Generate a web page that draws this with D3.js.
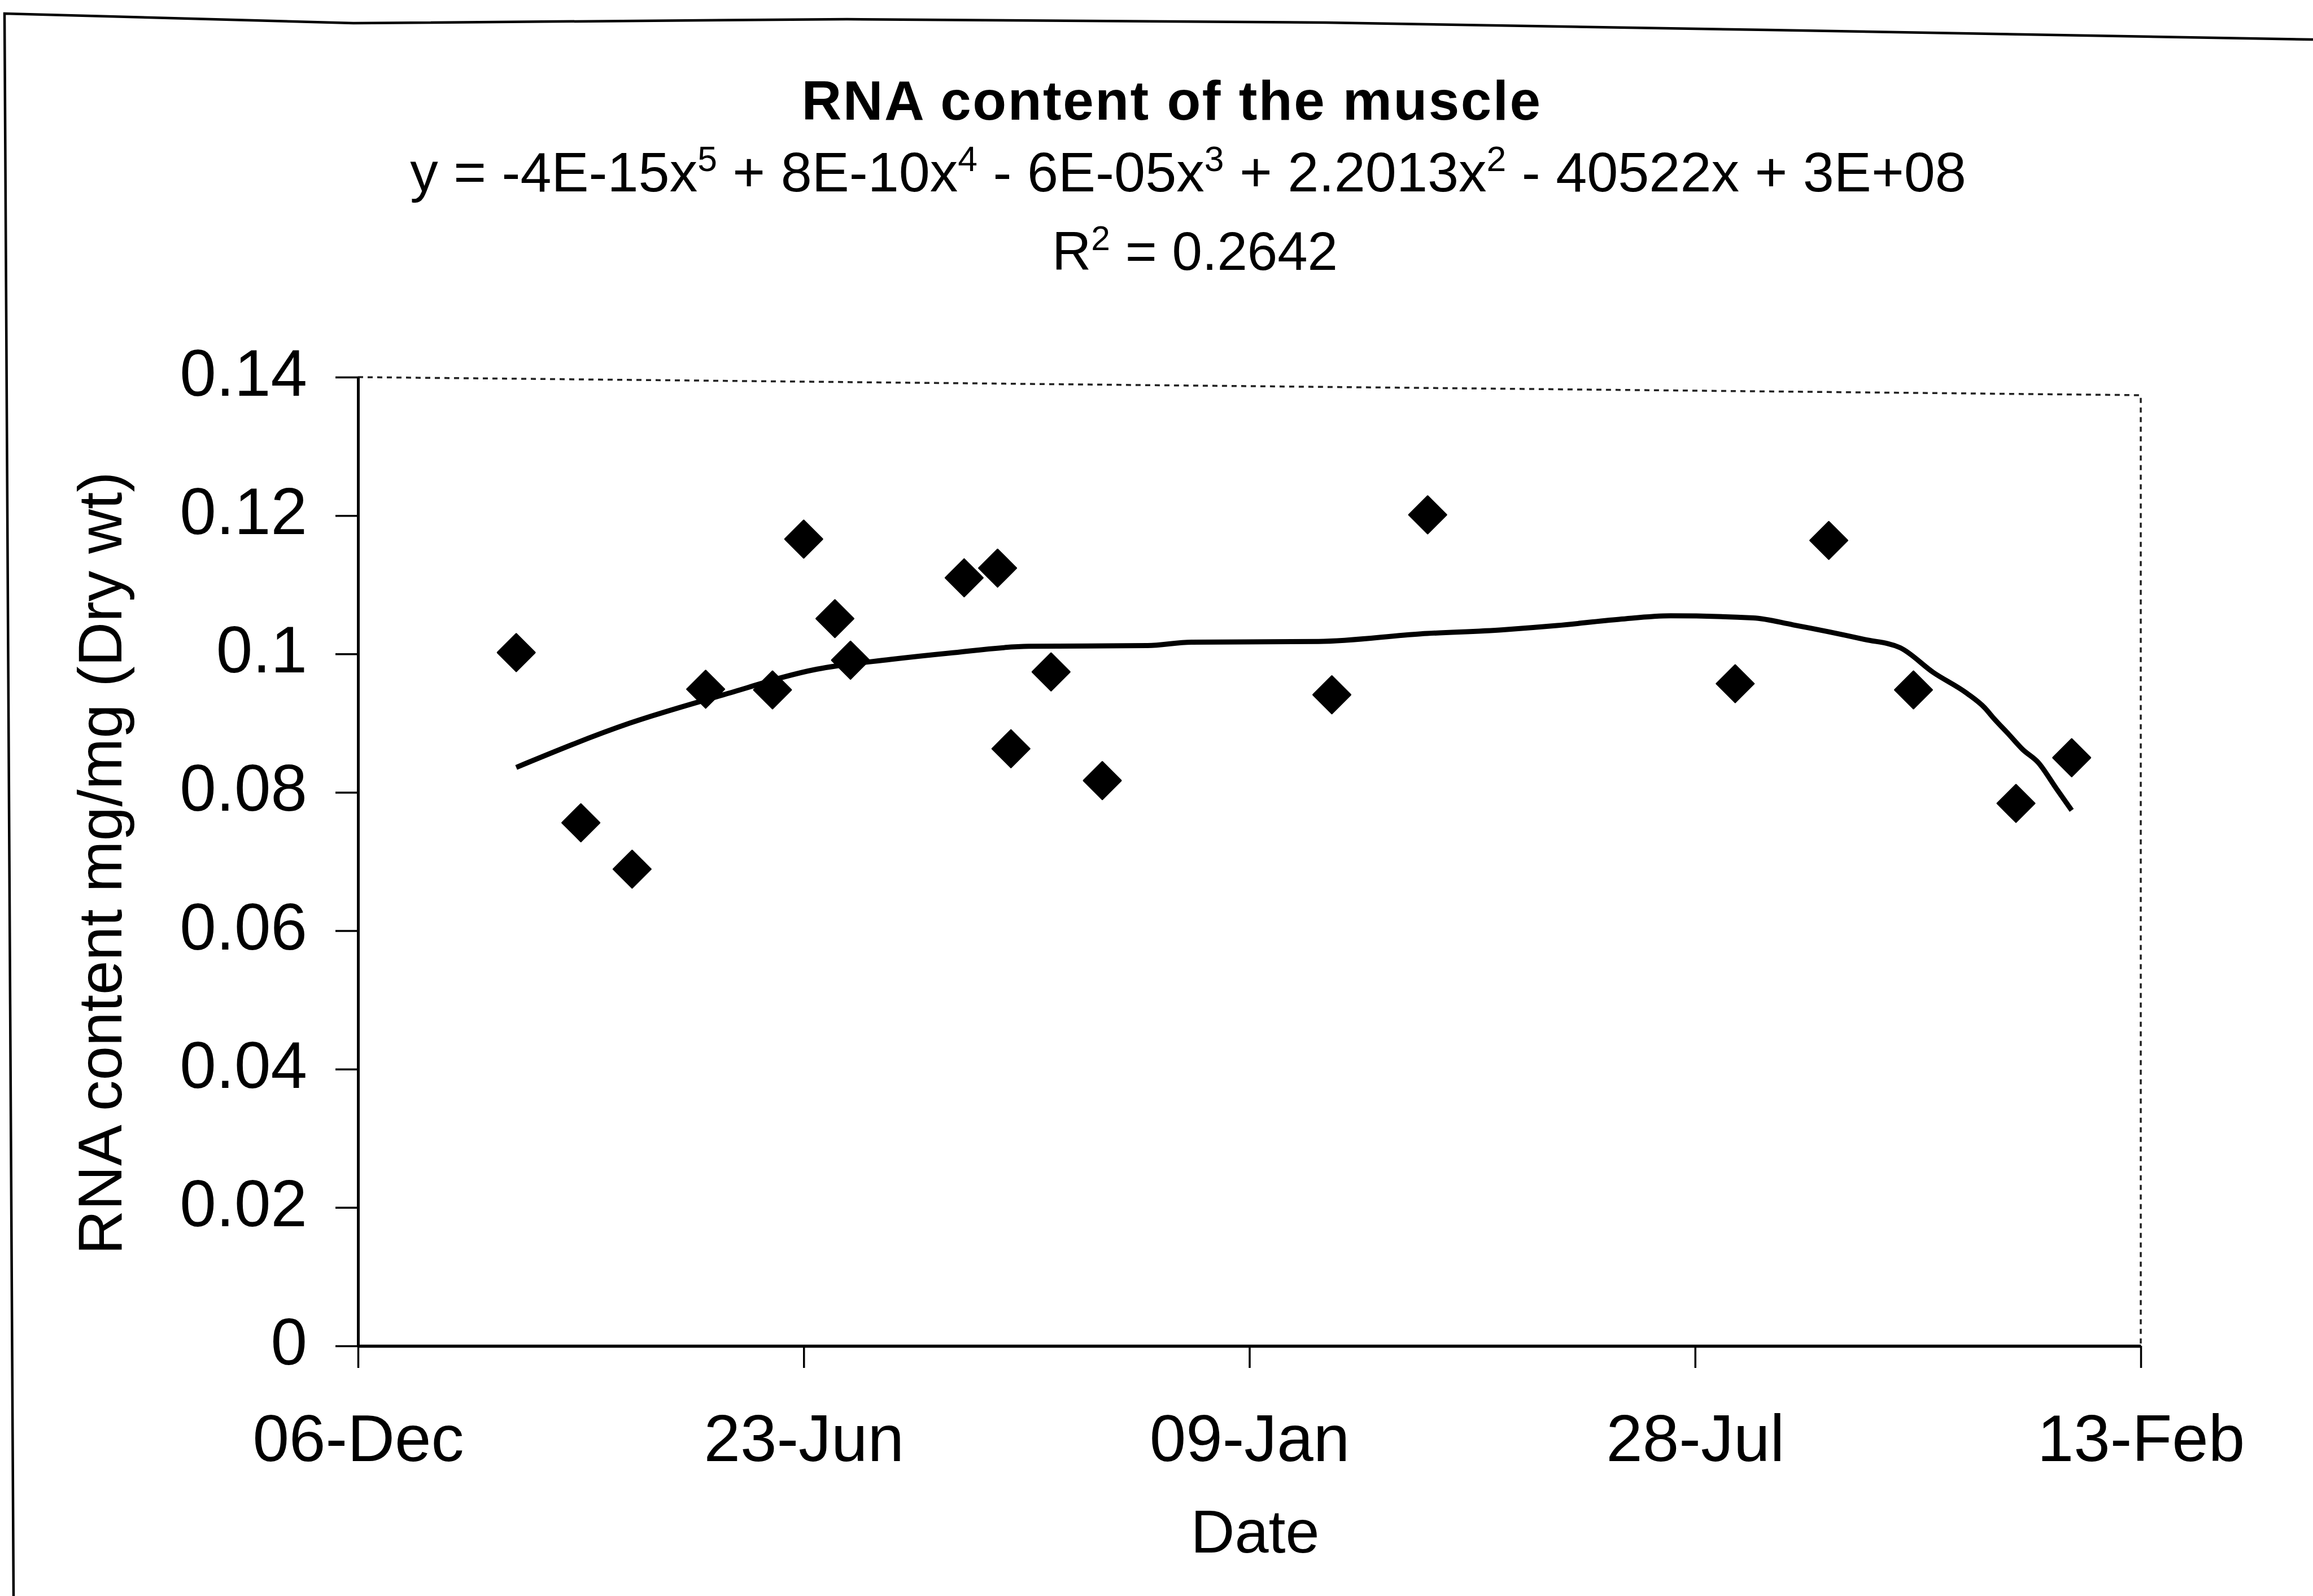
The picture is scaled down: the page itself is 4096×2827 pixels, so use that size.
<!DOCTYPE html>
<html>
<head>
<meta charset="utf-8">
<script src="https://cdn.jsdelivr.net/npm/d3@7"></script>
<style>
  html, body { margin: 0; padding: 0; background: #fff; }
  svg { display: block; }
  text { font-family: "Liberation Sans", Arial, Helvetica, sans-serif; fill: #000; }
</style>
</head>
<body>
<svg id="chart" width="4096" height="2827"></svg>
<script>
// ---- data ---------------------------------------------------------------
// Sampling dates and RNA content (mg/mg dry weight) of the muscle
const sampleDates = [
  "1996-02-15", "1996-03-15", "1996-04-07", "1996-05-10", "1996-06-09",
  "1996-06-23", "1996-07-07", "1996-07-14", "1996-09-03", "1996-09-18",
  "1996-09-24", "1996-10-12", "1996-11-04", "1997-02-15", "1997-03-30",
  "1997-08-15", "1997-09-26", "1997-11-03", "1997-12-19", "1998-01-13"
];
const rnaContent = [
  0.1002, 0.0756, 0.0689, 0.0949, 0.0948,
  0.1166, 0.1051, 0.0991, 0.1110, 0.1124,
  0.0863, 0.0974, 0.0817, 0.0941, 0.1201,
  0.0957, 0.1164, 0.0948, 0.0784, 0.0850
];

// 5th-order polynomial trend line, as plotted
const trendDates = [
  "1996-02-15", "1996-04-06", "1996-05-18", "1996-06-29", "1996-08-01",
  "1996-08-27", "1996-10-02", "1996-11-24", "1996-12-14", "1997-02-09",
  "1997-03-27", "1997-05-03", "1997-05-27", "1997-06-24", "1997-07-17",
  "1997-08-23", "1997-09-10", "1997-10-12", "1997-10-28", "1997-11-12",
  "1997-11-27", "1997-12-05", "1997-12-09", "1997-12-16", "1997-12-22",
  "1997-12-29", "1998-01-06", "1998-01-13"
];
const trendValues = [
  0.0836, 0.0900, 0.0941, 0.0978, 0.0992,
  0.1001, 0.1011, 0.1012, 0.1017, 0.1018,
  0.1029, 0.1035, 0.1041, 0.1050, 0.1055,
  0.1052, 0.1042, 0.1021, 0.1009, 0.0973,
  0.0943, 0.0922, 0.0907, 0.0883, 0.0862,
  0.0843, 0.0806, 0.0774
];

// Axis ticks
const xDomain = ["1995-12-06", "1998-02-13"];
const xTickDates = ["1995-12-06", "1996-06-23", "1997-01-09", "1997-07-28", "1998-02-13"];
const xTickLabels = ["06-Dec", "23-Jun", "09-Jan", "28-Jul", "13-Feb"];
const yTicks = [0, 0.02, 0.04, 0.06, 0.08, 0.1, 0.12, 0.14];
const yTickLabels = ["0", "0.02", "0.04", "0.06", "0.08", "0.1", "0.12", "0.14"];

const titleText = "RNA content of the muscle";
const equationParts = [
  ["y = -4E-15x", "5"], [" + 8E-10x", "4"], [" - 6E-05x", "3"],
  [" + 2.2013x", "2"], [" - 40522x + 3E+08", null]
];
const rSquaredParts = [["R", "2"], [" = 0.2642", null]];
const yAxisTitle = "RNA content mg/mg (Dry wt)";
const xAxisTitle = "Date";

// ---- layout -------------------------------------------------------------
const W = 4096, H = 2827;
const plot = { left: 634, right: 3791, top: 668, bottom: 2384, topRight: 700 };
const FONT = "Liberation Sans, Arial, sans-serif";

const parse = d3.timeParse("%Y-%m-%d");
const svg = d3.select("#chart");

svg.append("rect").attr("width", W).attr("height", H).attr("fill", "#fff");

// outer chart frame (left and top edges)
svg.append("path")
  .attr("d", d3.line()([[24, H], [8, 24], [626, 41], [1500, 34], [2348, 40], [3130, 53], [W, 70]]))
  .attr("fill", "none").attr("stroke", "#000").attr("stroke-width", 4.5);

const x = d3.scaleTime().domain(xDomain.map(parse)).range([plot.left, plot.right]);
const y = d3.scaleLinear().domain([0, 0.14]).range([plot.bottom, plot.top]);

// dotted plot-area border (top and right)
svg.append("path")
  .attr("d", d3.line()([[plot.left, plot.top], [plot.right, plot.topRight], [plot.right, plot.bottom]]))
  .attr("fill", "none").attr("stroke", "#222").attr("stroke-width", 3.5)
  .attr("stroke-dasharray", "9,8");

// y axis
const yAxis = d3.axisLeft(y)
  .tickValues(yTicks)
  .tickFormat((d, i) => yTickLabels[i])
  .tickSize(40).tickSizeOuter(0).tickPadding(50);
const gy = svg.append("g").attr("transform", `translate(${plot.left},0)`).call(yAxis);
gy.attr("font-size", 116).attr("font-family", FONT);
gy.select(".domain").attr("stroke", "#000").attr("stroke-width", 5);
gy.selectAll(".tick line").attr("stroke", "#000").attr("stroke-width", 3.5);
gy.selectAll(".tick text")
  .attr("font-size", 116).attr("font-family", FONT)
  .attr("fill", "#000").attr("dy", "0.28em");

// x axis
const xAxis = d3.axisBottom(x)
  .tickValues(xTickDates.map(parse))
  .tickFormat((d, i) => xTickLabels[i])
  .tickSize(39).tickSizeOuter(0).tickPadding(0);
const gx = svg.append("g").attr("transform", `translate(0,${plot.bottom})`).call(xAxis);
gx.attr("font-size", 116).attr("font-family", FONT);
gx.select(".domain").attr("stroke", "#000").attr("stroke-width", 5.5);
gx.selectAll(".tick line").attr("stroke", "#000").attr("stroke-width", 3.5);
gx.selectAll(".tick text")
  .attr("font-size", 116).attr("font-family", FONT)
  .attr("fill", "#000").attr("y", 204).attr("dy", 0);

// trend line
const trend = trendDates.map((d, i) => ({ date: parse(d), value: trendValues[i] }));
svg.append("path")
  .datum(trend)
  .attr("d", d3.line().x(d => x(d.date)).y(d => y(d.value)).curve(d3.curveMonotoneX))
  .attr("fill", "none").attr("stroke", "#000").attr("stroke-width", 9)
  .attr("stroke-linejoin", "round").attr("stroke-linecap", "butt");

// diamond markers
const samples = sampleDates.map((d, i) => ({ date: parse(d), value: rnaContent[i] }));
const r = 33;
svg.append("g").selectAll("path")
  .data(samples)
  .join("path")
  .attr("d", d => {
    const cx = x(d.date), cy = y(d.value);
    return `M${cx},${cy - r}L${cx + r},${cy}L${cx},${cy + r}L${cx - r},${cy}Z`;
  })
  .attr("fill", "#000").attr("stroke", "#000").attr("stroke-width", 3)
  .attr("stroke-linejoin", "round");

// titles
svg.append("text")
  .attr("x", 2075).attr("y", 212)
  .attr("text-anchor", "middle").attr("font-size", 98).attr("font-weight", "bold")
  .attr("letter-spacing", 2.5)
  .text(titleText);

// text line with superscript exponents
function supText(parts, cx, baseline, size) {
  const t = svg.append("text").attr("x", cx).attr("y", baseline)
    .attr("text-anchor", "middle").attr("font-size", size);
  const rise = size * 0.36;
  let raised = false;
  parts.forEach(([main, sup]) => {
    t.append("tspan").attr("font-size", size).attr("dy", raised ? rise : 0).text(main);
    raised = false;
    if (sup) {
      t.append("tspan").attr("font-size", size * 0.63).attr("dy", -rise).text(sup);
      raised = true;
    }
  });
  return t;
}
supText(equationParts, 2104, 339, 99);
supText(rSquaredParts, 2116, 478, 96);

svg.append("text")
  .attr("transform", `translate(215,1529) rotate(-90)`)
  .attr("text-anchor", "middle").attr("font-size", 109)
  .text(yAxisTitle);

svg.append("text")
  .attr("x", (plot.left + plot.right) / 2 + 10).attr("y", 2750)
  .attr("text-anchor", "middle").attr("font-size", 108)
  .text(xAxisTitle);
</script>
</body>
</html>
